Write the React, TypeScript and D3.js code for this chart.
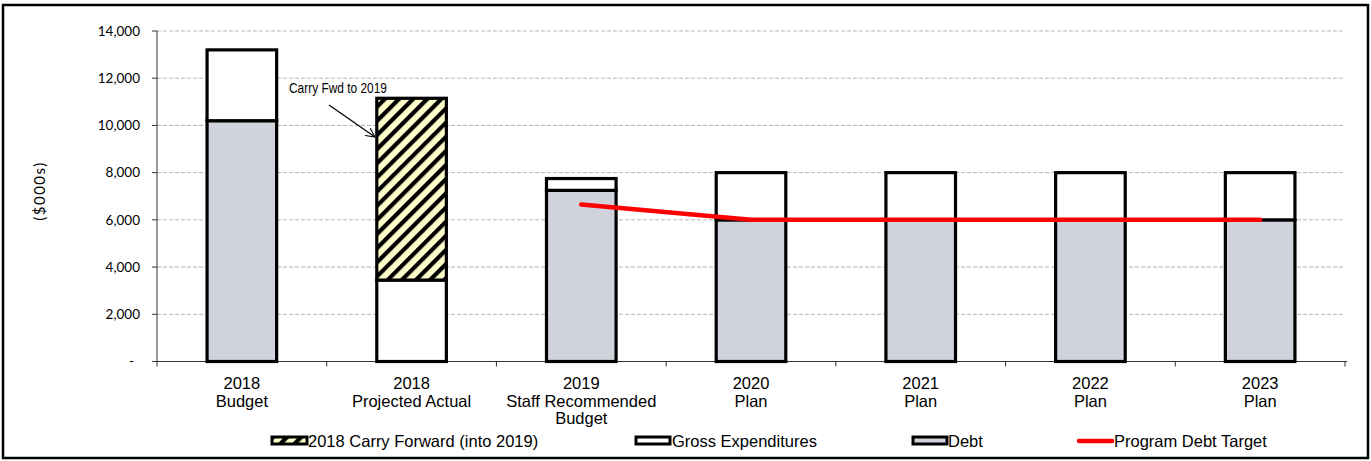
import React from "react";
import * as d3 from "d3";

const categories: string[][] = [
  ["2018", "Budget"],
  ["2018", "Projected Actual"],
  ["2019", "Staff Recommended", "Budget"],
  ["2020", "Plan"],
  ["2021", "Plan"],
  ["2022", "Plan"],
  ["2023", "Plan"],
];
const debt = [10200, 0, 7250, 6000, 6000, 6000, 6000];
const grossExpenditures = [13200, 3450, 7750, 8000, 8000, 8000, 8000];
const carryForward = [0, 7700, 0, 0, 0, 0, 0];
const debtTarget: (number | null)[] = [null, null, 6650, 6000, 6000, 6000, 6000];
const yTicks = [0, 2000, 4000, 6000, 8000, 10000, 12000, 14000];

const W = 1371;
const H = 461;
const left = 157;
const right = 1345;
const top = 31;
const bottom = 361.5;

export default function App() {
  const keys = categories.map((c) => c.join(" "));
  const x = d3.scaleBand<string>().domain(keys).range([left, right]).padding(0);
  const y = d3.scaleLinear().domain([0, 14000]).range([bottom, top]);
  const bw = x.bandwidth() * 0.41;
  const fmt = d3.format(",");
  const catFont = "'Liberation Sans', Arial, sans-serif";
  const tickFont = "Lato, 'Open Sans', sans-serif";

  const segs: { x: number; y0: number; y1: number; fill: string }[] = [];
  keys.forEach((k, i) => {
    const cx = (x(k) as number) + x.bandwidth() / 2 - bw / 2;
    if (debt[i] > 0) segs.push({ x: cx, y0: 0, y1: debt[i], fill: "#d0d3db" });
    if (grossExpenditures[i] > debt[i])
      segs.push({ x: cx, y0: debt[i], y1: grossExpenditures[i], fill: "#ffffff" });
    if (carryForward[i] > 0)
      segs.push({
        x: cx,
        y0: grossExpenditures[i],
        y1: grossExpenditures[i] + carryForward[i],
        fill: "url(#hatch)",
      });
  });

  const line = d3
    .line<number | null>()
    .defined((d) => d !== null)
    .x((_, i) => (x(keys[i]) as number) + x.bandwidth() / 2)
    .y((d) => y(d as number));

  const boundaries = keys.map((k) => x(k) as number).concat([right]);

  return (
    <div style={{ position: "absolute", left: 0, top: 0 }}>
      <svg width={W} height={H} style={{ display: "block" }}>
        <defs>
          <pattern
            id="hatch"
            patternUnits="userSpaceOnUse"
            width={10}
            height={10}
            patternTransform="rotate(45)"
          >
            <rect width={10} height={10} fill="#ffffcc" />
            <rect width={4.2} height={10} fill="#000" />
          </pattern>
          <marker
            id="arrow"
            viewBox="0 0 10 10"
            refX={10}
            refY={5}
            markerWidth={9}
            markerHeight={9}
            markerUnits="userSpaceOnUse"
            orient="auto"
          >
            <path d="M0,0 L10,5 L0,10" fill="none" stroke="#000" strokeWidth={1.2} />
          </marker>
        </defs>
        <rect x={0} y={0} width={W} height={H} fill="#fff" />
        <rect x={3} y={5} width={1365} height={453} fill="none" stroke="#000" strokeWidth={2.5} />

        {/* gridlines */}
        {yTicks
          .filter((t) => t > 0)
          .map((t) => (
            <line
              key={t}
              x1={left}
              x2={right}
              y1={y(t)}
              y2={y(t)}
              stroke="#b4b4b4"
              strokeDasharray="4,2"
              strokeWidth={1}
            />
          ))}

        {/* y axis */}
        <line x1={left} x2={left} y1={top} y2={bottom} stroke="#333" strokeWidth={1} />
        {yTicks.map((t) => (
          <g key={t}>
            <line x1={left - 5} x2={left} y1={y(t)} y2={y(t)} stroke="#333" strokeWidth={1} />
            <text
              x={t === 0 ? 134 : 140}
              y={y(t)}
              dy="0.35em"
              textAnchor="end"
              fontFamily={tickFont}
              fontSize={13.5}
              fill="#000"
            >
              {t === 0 ? "-" : fmt(t)}
            </text>
          </g>
        ))}
        <text
          transform="translate(40,191) rotate(-90)"
          textAnchor="middle"
          dy="0.35em"
          fontFamily={tickFont}
          fontSize={15}
          letterSpacing={1.5}
        >
          ($000s)
        </text>

        {/* x axis */}
        <line x1={left} x2={right + 2} y1={bottom} y2={bottom} stroke="#333" strokeWidth={1} />
        {boundaries.map((b, i) => (
          <line key={i} x1={b} x2={b} y1={bottom} y2={bottom + 5} stroke="#333" strokeWidth={1} />
        ))}
        {categories.map((c, i) => (
          <text
            key={i}
            x={(x(keys[i]) as number) + x.bandwidth() / 2}
            y={389}
            textAnchor="middle"
            fontFamily={catFont}
            fontSize={16.5}
          >
            {c.map((s, j) => (
              <tspan key={j} x={(x(keys[i]) as number) + x.bandwidth() / 2} dy={j === 0 ? 0 : 17.5}>
                {s}
              </tspan>
            ))}
          </text>
        ))}

        {/* bars */}
        {segs.map((s, i) => (
          <rect
            key={i}
            x={s.x}
            y={y(s.y1)}
            width={bw}
            height={y(s.y0) - y(s.y1)}
            fill={s.fill}
            stroke="#000"
            strokeWidth={3.2}
          />
        ))}

        {/* debt target line */}
        <path
          d={line(debtTarget) || ""}
          fill="none"
          stroke="#ff0000"
          strokeWidth={4.5}
          strokeLinecap="round"
          strokeLinejoin="round"
        />

        {/* annotation */}
        <text
          x={289}
          y={93}
          fontFamily="'Liberation Sans Narrow', 'Arial Narrow', sans-serif"
          fontSize={14}
          textLength={98}
          lengthAdjust="spacingAndGlyphs"
        >
          Carry Fwd to 2019
        </text>
        <line x1={329} y1={105} x2={375} y2={137} stroke="#000" strokeWidth={1.2} markerEnd="url(#arrow)" />

        {/* legend */}
        <rect x={272} y={437} width={35} height={7} fill="url(#hatch)" stroke="#000" strokeWidth={3} />
        <text x={308} y={447} fontFamily={catFont} fontSize={16.5}>
          2018 Carry Forward (into 2019)
        </text>
        <rect x={636} y={437} width={34} height={7} fill="#fff" stroke="#000" strokeWidth={3} />
        <text x={672} y={447} fontFamily={catFont} fontSize={16.5}>
          Gross Expenditures
        </text>
        <rect x={913} y={437} width={34} height={7} fill="#d0d3db" stroke="#000" strokeWidth={3} />
        <text x={948} y={447} fontFamily={catFont} fontSize={16.5}>
          Debt
        </text>
        <line x1={1079} x2={1112} y1={441} y2={441} stroke="#ff0000" strokeWidth={4.5} strokeLinecap="round" />
        <text x={1114} y={447} fontFamily={catFont} fontSize={16.5}>
          Program Debt Target
        </text>
      </svg>
    </div>
  );
}
